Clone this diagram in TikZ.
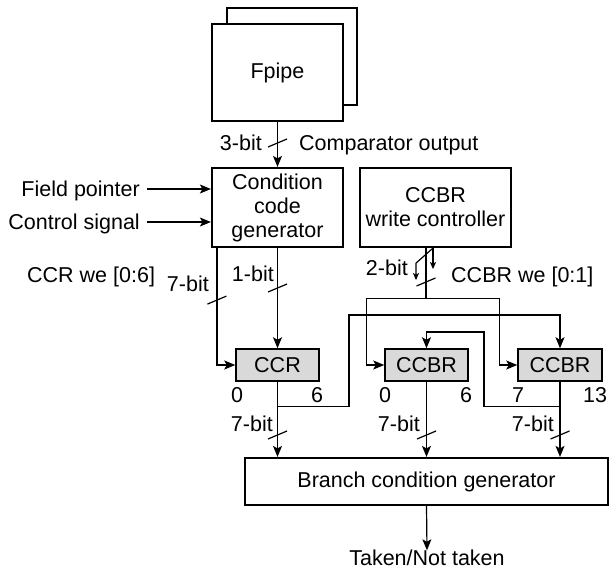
\documentclass[tikz,border=0pt]{standalone}
\usepackage{fontspec}
\setmainfont{Liberation Sans}
\usetikzlibrary{arrows.meta,calc}
\begin{document}
\begin{tikzpicture}[x=1pt,y=-1pt,
  font=\fontsize{21.5}{24}\selectfont,
  >={Stealth[length=11pt,width=9pt,inset=2.5pt]},
  conn/.style={line width=1.2pt},
  blk/.style={draw,line width=2.2pt,fill=white,inner sep=0pt},
  reg/.style={draw,line width=1.5pt,fill=black!15,inner sep=0pt,minimum width=83,minimum height=32},
  lbl/.style={inner sep=0pt,text height=15pt,text depth=0pt},
  bus/.pic={\draw[line width=1.2pt] (-9.5,4) -- (9.5,-4);},
  small/.style={-{Stealth[length=7pt,width=6pt,inset=1.5pt]}}
]
\useasboundingbox (0,0) rectangle (613,571);

% Fpipe (stacked)
\node[blk,minimum width=130,minimum height=97] (fpipeback) at (292,56.5) {};
\node[blk,minimum width=131,minimum height=97] (fpipe) at (277.5,72.5) {Fpipe};

% blocks
\node[blk,minimum width=131,minimum height=79,align=center] (ccg) at (277.5,207.5) {Condition\\code\\generator};
\node[blk,minimum width=151,minimum height=79,align=center] (ccbrw) at (435.5,207.5) {CCBR\\write controller};

\node[reg] (ccr) at (277.5,365) {CCR};
\node[reg] (ccbr1) at (426.5,365) {CCBR};
\node[reg,minimum width=84] (ccbr2) at (560,365) {CCBR};

\node[blk,minimum width=363,minimum height=47] (bcg) at (426.5,481.5) {Branch condition generator};
\node[lbl] (taken) at (427,558) {Taken/Not taken};

% side labels
\node[lbl,anchor=east] (fp) at (140,189) {Field pointer};
\node[lbl,anchor=east] (cs) at (140,222) {Control signal};
\node[lbl,anchor=east] (l3) at (262,143) {3-bit};
\node[lbl,anchor=west] (cmp) at (299,143) {Comparator output};
\node[lbl,anchor=west] (ccrwe) at (27,275) {CCR we [0:6]};
\node[lbl,anchor=east] (l7a) at (209,284) {7-bit};
\node[lbl,anchor=east] (l1) at (274,274) {1-bit};
\node[lbl,anchor=east] (l2) at (408,268) {2-bit};
\node[lbl,anchor=west] (ccbrwe) at (451,275) {CCBR we [0:1]};
\node[lbl] (b0a) at (237,395) {0};
\node[lbl] (b6a) at (317,395) {6};
\node[lbl] (b0b) at (385,395) {0};
\node[lbl] (b6b) at (466,395) {6};
\node[lbl] (b7c) at (518,395) {7};
\node[lbl] (b13c) at (595,395) {13};
\node[lbl,anchor=east] (l7b) at (273,424) {7-bit};
\node[lbl,anchor=east] (l7c) at (420,424) {7-bit};
\node[lbl,anchor=east] (l7d) at (554,424) {7-bit};

% junction coordinates
\coordinate (split) at ($(ccbrw.south)+(-9.5,50)$);
\coordinate (j1) at ($(ccr.south)+(0,25)$);
\coordinate (j2) at ($(ccbr2.south)+(0,25)$);

% connectors
\draw[conn,->] (fpipe) -- (ccg);
\draw[conn,->] (fp.east) ++(7,0) -- (fp.east -| ccg.west);
\draw[conn,->] (cs.east) ++(7,0) -- (cs.east -| ccg.west);
\draw[conn,->] ($(ccg.south west)+(6,0)$) |- (ccr.west);
\draw[conn,->] (ccg.south) -- (ccr.north);
\draw[conn] ($(ccbrw.south)+(-9.5,0)$) -- (split);
\draw[conn,->] (split) -| ($(ccbr1.west)+(-18,0)$) -- (ccbr1.west);
\draw[conn,->] (split) -| ($(ccbr2.west)+(-18,0)$) -- (ccbr2.west);
\draw[conn,->] (ccr.south) -- (ccr.south |- bcg.north);
\draw[conn,->] (ccbr1.south) -- (ccbr1.south |- bcg.north);
\draw[conn,->] (ccbr2.south) -- (ccbr2.south |- bcg.north);
\draw[conn,->] (j1) -| (349,315) -| (ccbr2.north);
\draw[conn,->] (j2) -| (484,332) -| (ccbr1.north);
\draw[conn,->] (bcg.south) -- (taken.north);

% split symbol under CCBR write controller
\draw[conn,small] ($(ccbrw.south)+(-2.5,0)$) -- ++(0,21);
\draw[conn,small] ($(ccbrw.south)+(-2.5,0)$) -- ++(-17,15) -- ++(0,17);

% bus slashes
\pic at (277.5,143) {bus};
\pic at ($(ccg.south west)+(6,52)$) {bus};
\pic at (277.5,288) {bus};
\pic at (426,282) {bus};
\pic at (277.5,435) {bus};
\pic at (426.5,435) {bus};
\pic at (560,435) {bus};
\end{tikzpicture}
\end{document}
